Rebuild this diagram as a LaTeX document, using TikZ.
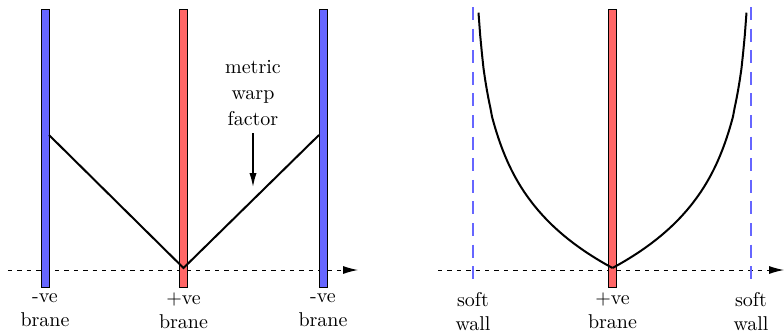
\documentclass[tikz,border=0pt]{standalone}
\usetikzlibrary{arrows.meta}

\tikzset{
  brane/.style={draw=black,line width=0.4pt},
  softwall/.style={blue!60,line width=1.4pt,dash pattern=on 6.5pt off 4.3pt},
  axis/.style={line width=0.5pt,dash pattern=on 2.2pt off 2.5pt,-{Latex[length=7.5pt,width=4pt]}},
  warp/.style={line width=1pt},
  lbl/.style={anchor=north,align=center}
}

\begin{document}
\begin{tikzpicture}[x=0.5pt,y=-0.5pt]
\useasboundingbox (0,0) rectangle (784,333);
% A) RS-type: two -ve branes and a +ve brane
\draw[axis] (8,270) -- (358,270);
\filldraw[brane,fill=blue!60] (41,9) rectangle (49,287);
\filldraw[brane,fill=red!60] (179.5,9) rectangle (187.5,287);
\filldraw[brane,fill=blue!60] (319,9) rectangle (327,287);
\coordinate (lA) at (49,135);
\coordinate (vA) at (183.5,268);
\coordinate (rA) at (319,135);
\draw[warp] (lA) -- (vA) -- (rA);
\node[lbl] (nl) at (45,286) {-ve\\brane};
\node[lbl] (pl) at (183.5,286) {+ve\\brane};
\node[lbl] (nr) at (323,286) {-ve\\brane};
\node[anchor=south,align=center] (mwf) at (253,133) {metric\\[1pt]warp\\[1pt]factor};
\coordinate (tip) at (253,187);
\draw[line width=0.7pt,-{Latex[length=7pt,width=3.6pt]}] (mwf.south) -- (tip);
% B) soft walls around a +ve brane
\draw[axis] (438,270) -- (784,270);
\draw[softwall] (473,7) -- (473,287);
\draw[softwall] (751,7) -- (751,287);
\filldraw[brane,fill=red!60] (608.5,9) rectangle (616.5,287);
\coordinate (vB) at (612.5,268);
\draw[warp] plot[domain=0:134,samples=80] ({612.5+\x},{268+75*ln(1-\x/138.5)});
\draw[warp] plot[domain=0:134,samples=80] ({612.5-\x},{268+75*ln(1-\x/138.5)});
\node[lbl] (sl) at (473,285) {soft\\wall};
\node[lbl] (pr) at (612.5,286) {+ve\\brane};
\node[lbl] (sr) at (751,285) {soft\\wall};
\end{tikzpicture}
\end{document}
